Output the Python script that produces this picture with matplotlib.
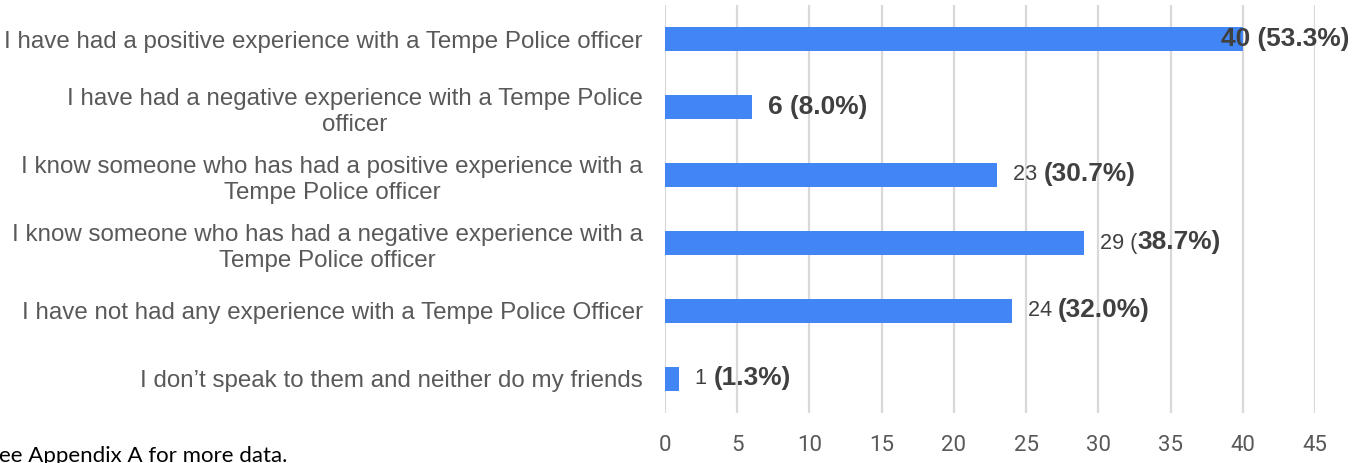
import matplotlib
matplotlib.use("Agg")
import matplotlib.pyplot as plt

# ---------------- data ----------------
categories = [
    "I have had a positive experience with a Tempe Police officer",
    "I have had a negative experience with a Tempe Police\nofficer",
    "I know someone who has had a positive experience with a\nTempe Police officer",
    "I know someone who has had a negative experience with a\nTempe Police officer",
    "I have not had any experience with a Tempe Police Officer",
    "I don\u2019t speak to them and neither do my friends",
]
counts = [40, 6, 23, 29, 24, 1]
percents = [53.3, 8.0, 30.7, 38.7, 32.0, 1.3]
# how the label text is split between regular / bold in the original
label_modes = ["all_bold", "all_bold", "num_regular", "num_paren_regular", "num_regular", "num_regular"]
xticks = [0, 5, 10, 15, 20, 25, 30, 35, 40, 45]
footnote = "See Appendix A for more data."

FONT = "Liberation Sans"
BAR = "#4285F4"
LBL = "#404040"
CAT = "#595959"
GRID = "#d9d9d9"

W, H = 1355, 463
fig = plt.figure(figsize=(W / 100, H / 100), dpi=100)
ax = fig.add_axes([665 / W, 1 - 413 / H, 650 / W, 408 / H])

ypos = list(range(len(categories)))
ax.barh(ypos, counts, height=0.35, color=BAR, zorder=3)
ax.set_xlim(0, 45)
ax.set_ylim(len(categories) - 0.5, -0.5)

ax.set_xticks(xticks)
ax.set_xticklabels([str(t) for t in xticks], fontfamily="Roboto", fontsize=16, color=CAT)
ax.tick_params(axis="x", length=0, pad=16)
ax.set_yticks(ypos)
ax.set_yticklabels(categories, fontfamily=FONT, fontsize=17.4, color=CAT, linespacing=1.27)
for t in ax.get_yticklabels():
    t.set_multialignment("center")
ax.tick_params(axis="y", length=0, pad=16)

ax.grid(axis="x", color=GRID, linewidth=1.6, zorder=0)
ax.grid(axis="y", visible=False)
for s in ax.spines.values():
    s.set_visible(False)

BOLD_SIZE = 18.9
REG_SIZE = 15.6

fig.canvas.draw()
renderer = fig.canvas.get_renderer()

for i, (c, p, mode) in enumerate(zip(counts, percents, label_modes)):
    if mode == "all_bold":
        parts = [(f"{c} ({p:.1f}%)", True)]
    elif mode == "num_regular":
        parts = [(f"{c} ", False), (f"({p:.1f}%)", True)]
    else:
        parts = [(f"{c} (", False), (f"{p:.1f}%)", True)]

    # measure the full label; if it would run off the figure, pull it back
    full_w = 0
    tmp = []
    for txt, b in parts:
        t = fig.text(0, 0, txt, fontfamily=FONT, fontsize=BOLD_SIZE if b else REG_SIZE,
                     fontweight="bold" if b else "normal")
        full_w += t.get_window_extent(renderer).width
        tmp.append(t)
    for t in tmp:
        t.remove()

    x_px = ax.transData.transform((c, i))[0] + 16
    if x_px + full_w > W - 6:
        x_px = W - 6 - full_w
    y_px = ax.transData.transform((c, i))[1]

    prev = None
    for txt, b in parts:
        kw = dict(fontfamily=FONT, fontsize=BOLD_SIZE if b else REG_SIZE,
                  fontweight="bold" if b else "normal", color=LBL, zorder=5,
                  annotation_clip=False)
        if prev is None:
            prev = ax.annotate(txt, xy=(x_px, y_px), xycoords="figure pixels",
                               ha="left", va="center", **kw)
            fig.canvas.draw()
        else:
            prev = ax.annotate(txt, xy=(1, 0), xycoords=prev, ha="left", va="bottom", **kw)

fig.text(-13 / W, 0.5 / H, footnote, fontfamily="Lato", fontsize=16, color="#000000",
         ha="left", va="baseline")

fig.savefig("out.png", dpi=100)
